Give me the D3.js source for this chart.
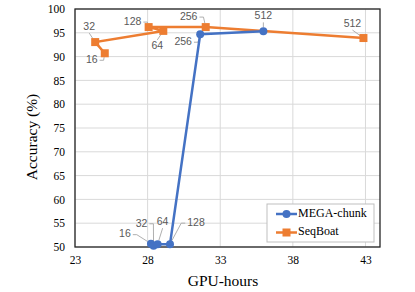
<!DOCTYPE html>
<html>
<head>
<meta charset="utf-8">
<title>GPU-hours vs Accuracy</title>
<script src="https://d3js.org/d3.v7.min.js"></script>
<style>
  body { margin: 0; background: #fff; }
  .tick text { font-family: "Liberation Serif", "Times New Roman", serif; font-size: 11.5px; fill: #000; }
  .dlabel { font-family: "Liberation Sans", Arial, sans-serif; font-size: 10.5px; fill: #595959; }
</style>
</head>
<body>
<div id="chart"></div>
<script>
// data
var sizes = [16, 32, 64, 128, 256, 512];
var megaHours = [28.23, 28.41, 28.69, 29.54, 31.62, 35.97];
var megaAcc   = [50.7, 50.25, 50.6, 50.6, 94.7, 95.3];
var seqHours  = [25.05, 24.39, 29.08, 28.07, 32.0, 42.86];
var seqAcc    = [90.7, 93.05, 95.4, 96.2, 96.2, 93.9];
var xTicks = [23, 28, 33, 38, 43];
var yTicks = [50, 55, 60, 65, 70, 75, 80, 85, 90, 95, 100];

// label offsets (px) relative to the point
var megaLabelPos = [[-26, -9], [-12, -22], [5, -22], [26, -21], [-17, 8], [0, -15]];
var seqLabelPos  = [[-13, 7], [-6, -15], [-6, 15], [-16, -5], [-17, -10], [-11, -14]];

var W = 415, H = 292;
var margin = {top: 9, right: 35, bottom: 45, left: 75};
var width = W - margin.left - margin.right,
    height = H - margin.top - margin.bottom;

var svg = d3.select("#chart").append("svg")
    .attr("width", W).attr("height", H);
var g = svg.append("g")
    .attr("transform", "translate(" + margin.left + "," + margin.top + ")");

var x = d3.scaleLinear().domain([23, 44]).range([0, width]);
var y = d3.scaleLinear().domain([50, 100]).range([height, 0]);

// gridlines
g.selectAll(".vgrid").data(xTicks).enter().append("line")
    .attr("x1", function(d) { return x(d); }).attr("x2", function(d) { return x(d); })
    .attr("y1", 0).attr("y2", height)
    .attr("stroke", "#d9d9d9").attr("stroke-width", 1);
g.selectAll(".hgrid").data(yTicks).enter().append("line")
    .attr("x1", 0).attr("x2", width)
    .attr("y1", function(d) { return y(d); }).attr("y2", function(d) { return y(d); })
    .attr("stroke", "#d9d9d9").attr("stroke-width", 1);

// axes
var xAxis = g.append("g").attr("transform", "translate(0," + height + ")")
    .call(d3.axisBottom(x).tickValues(xTicks).tickSize(0).tickPadding(9).tickFormat(d3.format("d")));
var yAxis = g.append("g")
    .call(d3.axisLeft(y).tickValues(yTicks).tickSize(0).tickPadding(10).tickFormat(d3.format("d")));
xAxis.select(".domain").remove();
yAxis.select(".domain").remove();

// plot frame
g.append("rect").attr("x", 0).attr("y", 0).attr("width", width).attr("height", height)
    .attr("fill", "none").attr("stroke", "#262626").attr("stroke-width", 1.3);

// axis titles
svg.append("text").attr("x", 223).attr("y", 286)
    .attr("text-anchor", "middle")
    .style("font-family", "'Liberation Serif', 'Times New Roman', serif").style("font-size", "15.5px")
    .text("GPU-hours");
svg.append("text").attr("transform", "translate(37,137) rotate(-90)")
    .attr("text-anchor", "middle")
    .style("font-family", "'Liberation Serif', 'Times New Roman', serif").style("font-size", "15.5px")
    .text("Accuracy (%)");

var line = d3.line().x(function(d) { return x(d[0]); }).y(function(d) { return y(d[1]); });

var mega = sizes.map(function(s, i) { return [megaHours[i], megaAcc[i], s]; });
var seq = sizes.map(function(s, i) { return [seqHours[i], seqAcc[i], s]; });

var blue = "#4472c4", orange = "#ed7d31";

// data labels with elbow leader lines (drawn under the series)
var leaders = g.append("g");
function labels(data, pos) {
  data.forEach(function(d, i) {
    var px = x(d[0]), py = y(d[1]);
    var dx = pos[i][0], dy = pos[i][1];
    var lx = px + dx, ly = py + dy;
    var t = g.append("text").attr("class", "dlabel")
      .attr("x", lx).attr("y", ly)
      .attr("text-anchor", "middle").attr("dominant-baseline", "middle")
      .text(d[2]);
    var dist = Math.sqrt(dx * dx + dy * dy);
    if (dist > 14) {
      var hw = t.node().getComputedTextLength() / 2;
      var sx = dx < 0 ? lx + hw + 2 : lx - hw - 2;
      if (Math.abs(dx) < hw + 3) { sx = lx; }
      var sy = ly;
      var ex = sx + (dx < 0 ? 4 : -4);
      if (Math.abs(dx) < hw + 3) { ex = sx; sy = ly + (dy < 0 ? 6 : -6); }
      var vx = px - ex, vy = py - sy, vl = Math.sqrt(vx * vx + vy * vy);
      var tx = px - vx / vl * 4, ty = py - vy / vl * 4;
      leaders.append("polyline")
        .attr("points", [[sx, sy], [ex, sy], [tx, ty]].map(function(p) { return p.join(","); }).join(" "))
        .attr("fill", "none").attr("stroke", "#a6a6a6").attr("stroke-width", 0.9);
    }
  });
}
labels(mega, megaLabelPos);
labels(seq, seqLabelPos);

// SeqBoat
g.append("path").datum(seq).attr("d", line)
    .attr("fill", "none").attr("stroke", orange).attr("stroke-width", 2.5);
g.selectAll(".sq").data(seq).enter().append("rect")
    .attr("x", function(d) { return x(d[0]) - 4; }).attr("y", function(d) { return y(d[1]) - 4; })
    .attr("width", 8).attr("height", 8).attr("fill", orange);

// MEGA-chunk
g.append("path").datum(mega).attr("d", line)
    .attr("fill", "none").attr("stroke", blue).attr("stroke-width", 2.5);
g.selectAll(".ci").data(mega).enter().append("circle")
    .attr("cx", function(d) { return x(d[0]); }).attr("cy", function(d) { return y(d[1]); })
    .attr("r", 4).attr("fill", blue);

// legend
var lg = svg.append("g").attr("transform", "translate(267,204)");
lg.append("rect").attr("width", 107).attr("height", 38)
    .attr("fill", "#fff").attr("stroke", "#bfbfbf").attr("stroke-width", 1);
var items = [["MEGA-chunk", blue, "circle"], ["SeqBoat", orange, "square"]];
items.forEach(function(it, i) {
  var cy = 10 + i * 18.5;
  lg.append("line").attr("x1", 9).attr("x2", 30).attr("y1", cy).attr("y2", cy)
    .attr("stroke", it[1]).attr("stroke-width", 2.5);
  if (it[2] === "circle") {
    lg.append("circle").attr("cx", 19.5).attr("cy", cy).attr("r", 4).attr("fill", it[1]);
  } else {
    lg.append("rect").attr("x", 15.5).attr("y", cy - 4).attr("width", 8).attr("height", 8).attr("fill", it[1]);
  }
  lg.append("text").attr("x", 31).attr("y", cy).attr("dominant-baseline", "middle")
    .style("font-family", "'Liberation Serif', 'Times New Roman', serif").style("font-size", "12px")
    .text(it[0]);
});
</script>
</body>
</html>
